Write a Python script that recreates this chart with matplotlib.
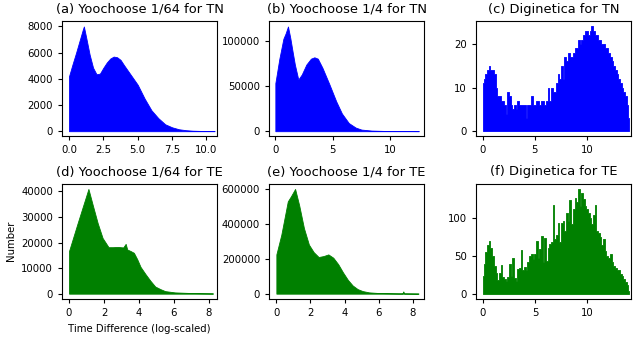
import numpy as np
import matplotlib
matplotlib.use('Agg')
import matplotlib.pyplot as plt

# (a) Yoochoose 1/64 for TN
a_x = [0, 0.25, 0.5, 0.75, 1.0, 1.08, 1.25, 1.5, 1.75, 2.0, 2.25, 2.5, 2.75, 3.0, 3.25,
       3.5, 3.75, 4.0, 4.5, 5.0, 5.5, 6.0, 6.5, 7.0, 7.5, 8.0, 8.5, 9.0, 9.5, 10.0, 10.6]
a_y = [4200, 5100, 5950, 6850, 7750, 8000, 7150, 5850, 4850, 4350, 4400, 4850, 5250, 5550, 5700,
       5650, 5450, 5050, 4300, 3550, 2500, 1600, 1000, 530, 300, 150, 80, 40, 25, 15, 10]

# (b) Yoochoose 1/4 for TN
b_x = [0, 0.35, 0.7, 0.9, 1.1, 1.3, 1.5, 1.7, 2.0, 2.3, 2.7, 3.1, 3.4, 3.7, 4.1, 4.7,
       5.3, 5.8, 6.4, 7.0, 7.5, 8.4, 9.5, 12.5]
b_y = [53000, 80000, 102000, 108000, 115500, 103000, 88000, 73500, 57000, 62500, 73500,
       80000, 81500, 80000, 70000, 52000, 33000, 19500, 9000, 4000, 1800, 700, 300, 100]

# (c) Diginetica for TN (bins of ~0.162)
c_step = 0.1618
c_y = [11, 12, 13, 14, 15, 14, 14, 13, 10, 8, 8, 7, 7, 6, 4, 9, 8, 6, 5, 6,
       5, 7, 6, 6, 6, 6, 3, 6, 6, 8, 6, 6, 7, 7, 6, 7, 7, 6, 7, 10,
       7, 10, 9, 9, 11, 13, 12, 15, 12, 17, 16, 18, 17, 17, 18, 19, 19, 21, 20, 21,
       22, 23, 23, 22, 23, 24, 23, 22, 22, 21, 21, 20, 20, 19, 19, 18, 17, 16, 15, 14,
       13, 12, 11, 10, 9, 8, 6, 3]

# (d) Yoochoose 1/64 for TE
d_x = [0, 0.5, 1.11, 1.36, 1.64, 1.92, 2.1, 2.26, 2.5, 2.8, 3.1, 3.24, 3.33, 3.52, 3.71,
       3.9, 4.09, 4.37, 4.65, 4.93, 5.22, 5.5, 6.06, 7.0, 8.23]
d_y = [16700, 27800, 41000, 34600, 27600, 21800, 19900, 18200, 18200, 18300, 18100, 19500,
       17300, 16700, 16000, 13500, 10500, 7700, 5100, 2800, 1800, 1000, 500, 250, 130]

# (e) Yoochoose 1/4 for TE
e_x = [0, 0.29, 0.67, 0.86, 1.1, 1.34, 1.62, 1.91, 2.19, 2.48, 2.77, 3.05, 3.34, 3.63,
       3.91, 4.2, 4.48, 4.77, 5.06, 5.44, 6.0, 7.16, 7.4, 7.45, 7.5, 8.34]
e_y = [225000, 337500, 528700, 558700, 600000, 506000, 375000, 281000, 238000, 210000,
       215600, 225000, 206000, 168700, 121900, 78700, 46900, 26200, 15000, 7500, 3750,
       1900, 1900, 13000, 1900, 1000]

# (f) Diginetica for TE (bins of ~0.161)
f_step = 0.1613
f_y = [24, 39, 55, 64, 70, 61, 50, 37, 28, 18, 28, 38, 22, 20, 17, 22, 39, 24, 47, 21,
       17, 33, 34, 58, 31, 35, 31, 42, 50, 52, 46, 53, 70, 47, 59, 77, 42, 74, 44, 61,
       66, 68, 118, 72, 78, 94, 68, 94, 96, 83, 107, 96, 124, 92, 112, 127, 121, 139, 116, 134,
       125, 116, 112, 107, 101, 92, 105, 118, 83, 81, 75, 64, 72, 57, 50, 48, 53, 42, 37, 34,
       31, 32, 26, 24, 20, 15, 11, 4]

titles = ['(a) Yoochoose 1/64 for TN', '(b) Yoochoose 1/4 for TN', '(c) Diginetica for TN',
          '(d) Yoochoose 1/64 for TE', '(e) Yoochoose 1/4 for TE', '(f) Diginetica for TE']

# x, y, colour, stepped?
series = [
    (a_x, a_y, 'blue', None),
    (b_x, b_y, 'blue', None),
    (np.arange(len(c_y)) * c_step, c_y, 'blue', 'mid'),
    (d_x, d_y, 'green', None),
    (e_x, e_y, 'green', None),
    (np.arange(len(f_y)) * f_step, f_y, 'green', 'mid'),
]
xlims = [(-0.51, 10.78), (-0.55, 12.96), (-0.66, 14.26),
         (-0.40, 8.47), (-0.43, 8.67), (-0.66, 14.22)]

fig, axes = plt.subplots(2, 3, figsize=(6.33, 3.37), dpi=100)
fig.subplots_adjust(left=0.098, right=0.997, top=0.937, bottom=0.113, wspace=0.335, hspace=0.41)

for ax, (x, y, col, st), title, xl in zip(axes.flat, series, titles, xlims):
    ax.fill_between(x, 0, y, color=col, linewidth=0.6, step=st)
    ax.use_sticky_edges = False
    ax.margins(y=0.05)
    ax.set_xlim(*xl)
    ax.set_title(title, fontsize=9.4)
    ax.tick_params(labelsize=7.3, length=3)

axes[1, 0].set_xlabel('Time Difference (log-scaled)', fontsize=7.3)
axes[1, 0].set_ylabel('Number', fontsize=7.3)

plt.savefig('out.png', dpi=100)
